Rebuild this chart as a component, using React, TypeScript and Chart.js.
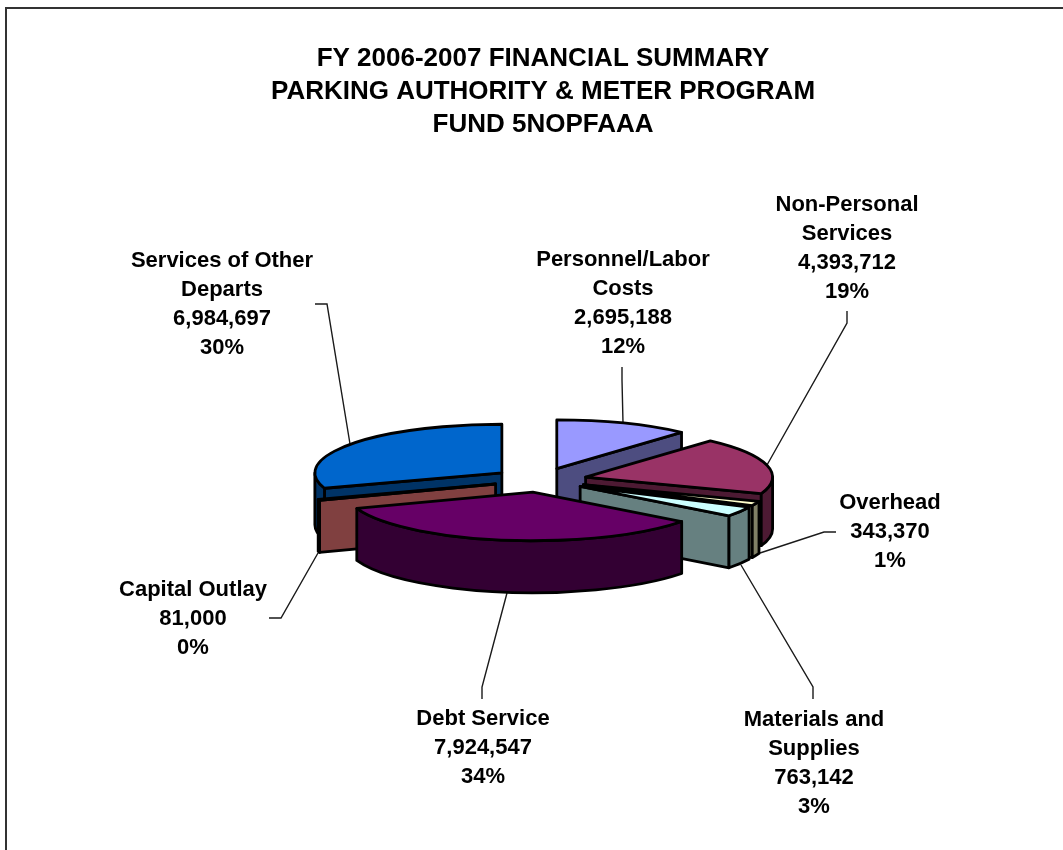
import React, { useEffect, useRef } from "react";
import { Chart, registerables } from "chart.js";

Chart.register(...registerables);

const categories = [
  "Personnel/Labor Costs",
  "Non-Personal Services",
  "Overhead",
  "Materials and Supplies",
  "Debt Service",
  "Capital Outlay",
  "Services of Other Departs",
];
const labelLines = [
  ["Personnel/Labor", "Costs"],
  ["Non-Personal", "Services"],
  ["Overhead"],
  ["Materials and", "Supplies"],
  ["Debt Service"],
  ["Capital Outlay"],
  ["Services of Other", "Departs"],
];
const values = [2695188, 4393712, 343370, 763142, 7924547, 81000, 6984697];
const topColors = ["#9999FF", "#993366", "#FFFFCC", "#CCFFFF", "#660066", "#FF8080", "#0066CC"];
const wallColors = ["#4D4D80", "#4D1A33", "#808066", "#668080", "#330033", "#804040", "#003366"];
const titleLines = ["FY 2006-2007 FINANCIAL SUMMARY", "PARKING AUTHORITY & METER PROGRAM", "FUND 5NOPFAAA"];

// label anchor: centre x, first line centre y
const labelAnchors = [
  [623, 260],
  [847, 205],
  [890, 503],
  [814, 720],
  [483, 719],
  [193, 590],
  [222, 261],
];
const leaderPaths = [
  [[622, 367], [622, 380], [623, 423]],
  [[847, 311], [847, 323], [767, 465]],
  [[836, 532], [824, 532], [760, 553]],
  [[813, 699], [813, 687], [741, 565]],
  [[482, 699], [482, 687], [507, 593]],
  [[269, 618], [281, 618], [318, 553]],
  [[315, 304], [327, 304], [350, 444]],
];

const TILT = 0.26;
const EXPLODE = 47;
const DEPTH = 52;
const PIE_RADIUS = 187;
const PIE_SHIFT_X = -3;
const EPS = 1e-6;

const pie3d = {
  id: "pie3d",
  beforeDraw(chart: any) {
    const ctx = chart.ctx;
    ctx.save();
    ctx.strokeStyle = "#333333";
    ctx.lineWidth = 2;
    ctx.beginPath();
    ctx.moveTo(6, 850);
    ctx.lineTo(6, 8);
    ctx.lineTo(1063, 8);
    ctx.stroke();
    ctx.restore();
  },
  beforeDatasetsDraw(chart: any) {
    const ctx = chart.ctx;
    const arcs = chart.getDatasetMeta(0).data;
    const total = values.reduce((a, b) => a + b, 0);

    // leader lines sit under the slices
    ctx.save();
    ctx.strokeStyle = "#1a1a1a";
    ctx.lineWidth = 1.4;
    leaderPaths.forEach((p) => {
      ctx.beginPath();
      p.forEach(([x, y], j) => (j ? ctx.lineTo(x, y) : ctx.moveTo(x, y)));
      ctx.stroke();
    });
    ctx.restore();

    const order = arcs
      .map((arc: any, i: number) => ({ arc, i, mid: (arc.startAngle + arc.endAngle) / 2 }))
      .sort((a: any, b: any) => Math.sin(a.mid) - Math.sin(b.mid));

    ctx.save();
    ctx.lineJoin = "round";
    ctx.lineCap = "round";
    ctx.lineWidth = 2.8;
    ctx.strokeStyle = "#000000";
    order.forEach(({ arc, i, mid }: any) => {
      const R = arc.outerRadius;
      const ax = arc.x + PIE_SHIFT_X + EXPLODE * Math.cos(mid);
      const ay = arc.y + TILT * EXPLODE * Math.sin(mid);
      const ry = R * TILT;
      const px = (a: number) => ax + R * Math.cos(a);
      const py = (a: number) => ay + ry * Math.sin(a);
      const s = arc.startAngle;
      const e = arc.endAngle;
      const paint = (fill: string) => {
        ctx.closePath();
        ctx.fillStyle = fill;
        ctx.fill();
        ctx.stroke();
      };
      const radial = (a: number) => {
        ctx.beginPath();
        ctx.moveTo(ax, ay);
        ctx.lineTo(px(a), py(a));
        ctx.lineTo(px(a), py(a) + DEPTH);
        ctx.lineTo(ax, ay + DEPTH);
        paint(wallColors[i]);
      };
      if (Math.cos(s) < -EPS) radial(s);
      if (Math.cos(e) > EPS) radial(e);
      const a0 = Math.max(s, 0);
      const a1 = Math.min(e, Math.PI);
      if (a1 > a0) {
        ctx.beginPath();
        ctx.ellipse(ax, ay, R, ry, 0, a0, a1);
        ctx.lineTo(px(a1), py(a1) + DEPTH);
        ctx.ellipse(ax, ay + DEPTH, R, ry, 0, a1, a0, true);
        paint(wallColors[i]);
      }
      ctx.beginPath();
      ctx.moveTo(ax, ay);
      ctx.ellipse(ax, ay, R, ry, 0, s, e);
      paint(arc.options.backgroundColor);
    });
    ctx.restore();

    // data labels
    ctx.save();
    ctx.fillStyle = "#000000";
    ctx.font = 'bold 22px "Liberation Sans", Arial, sans-serif';
    ctx.textAlign = "center";
    ctx.textBaseline = "middle";
    values.forEach((v, i) => {
      const lines = [
        ...labelLines[i],
        v.toLocaleString("en-US"),
        Math.round((v / total) * 100) + "%",
      ];
      const [x, y] = labelAnchors[i];
      lines.forEach((t, j) => ctx.fillText(t, x, y + j * 29));
    });
    ctx.restore();
    return false;
  },
};

export default function App() {
  const ref = useRef<HTMLCanvasElement>(null);
  useEffect(() => {
    document.body.style.margin = "0";
    const chart = new Chart(ref.current as HTMLCanvasElement, {
      type: "pie",
      data: {
        labels: categories,
        datasets: [{ data: values, backgroundColor: topColors, borderColor: "#000000", borderWidth: 2 }],
      },
      options: {
        responsive: false,
        animation: false,
        radius: PIE_RADIUS,
        layout: { padding: { left: 23, right: 0, top: 0, bottom: 40 } },
        plugins: {
          legend: { display: false },
          tooltip: { enabled: false },
          title: {
            display: true,
            text: titleLines,
            color: "#000000",
            font: { family: '"Liberation Sans", Arial, sans-serif', size: 26, weight: "bold", lineHeight: "33px" },
            padding: { top: 42, bottom: 9 },
          },
        },
      } as any,
      plugins: [pie3d],
    });
    return () => chart.destroy();
  }, []);
  return (
    <canvas
      ref={ref}
      width={1063}
      height={850}
      style={{ position: "absolute", left: 0, top: 0, display: "block" }}
    />
  );
}
